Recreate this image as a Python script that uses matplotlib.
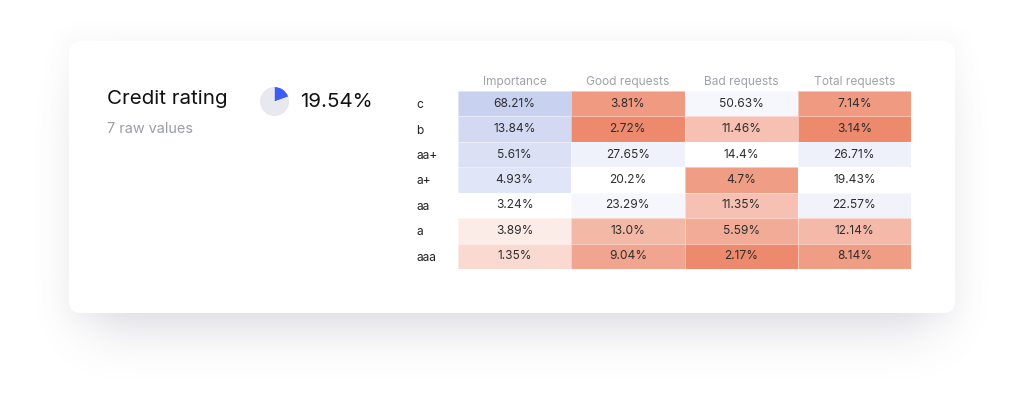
import math
import numpy as np
import matplotlib
matplotlib.use("Agg")
import matplotlib.pyplot as plt
from matplotlib.patches import FancyBboxPatch
from matplotlib.colors import LinearSegmentedColormap

plt.rcParams['font.family'] = ['Inter', 'DejaVu Sans']

# ---- data ----
title = "Credit rating"
subtitle = "7 raw values"
share_pct = 19.54
row_labels = ["c", "b", "aa+", "a+", "aa", "a", "aaa"]
col_labels = ["Importance", "Good requests", "Bad requests", "Total requests"]
importance = [68.21, 13.84, 5.61, 4.93, 3.24, 3.89, 1.35]
good_requests = [3.81, 2.72, 27.65, 20.2, 23.29, 13.0, 9.04]
bad_requests = [50.63, 11.46, 14.4, 4.7, 11.35, 5.59, 2.17]
total_requests = [7.14, 3.14, 26.71, 19.43, 22.57, 12.14, 8.14]
# colour shade (-1 deep red ... +1 deep blue)
shade_importance = [0.98, 0.80, 0.65, 0.56, 0.0, -0.15, -0.30]
shade_good = [-0.81, -0.94, 0.27, 0.0, 0.16, -0.57, -0.72]
shade_bad = [0.16, -0.50, 0.0, -0.78, -0.50, -0.67, -0.94]
shade_total = [-0.81, -0.94, 0.31, 0.0, 0.25, -0.56, -0.78]

W, H = 1024, 411
fig = plt.figure(figsize=(W / 100, H / 100), dpi=100)
fig.patch.set_facecolor('white')
bg = fig.add_axes([0, 0, 1, 1])
bg.axis('off')

# soft shadow
erf = np.vectorize(math.erf)
def soft_box(x, a, b, s):
    return 0.5 * (erf((x - a) / (s * math.sqrt(2))) - erf((x - b) / (s * math.sqrt(2))))
xs = np.arange(W) + 0.5
ys = np.arange(H) + 0.5
alpha = 0.20 * np.outer(soft_box(ys, 85, 330, 25), soft_box(xs, 88, 936, 26))
alpha += 0.035 * np.outer(soft_box(ys, 35, 320, 10), soft_box(xs, 62, 962, 10))
rgba = np.zeros((H, W, 4))
rgba[..., 0] = 0.38
rgba[..., 1] = 0.37
rgba[..., 2] = 0.48
rgba[..., 3] = np.clip(alpha, 0, 1)
bg.imshow(rgba, extent=(0, W, H, 0), aspect='auto', zorder=0, interpolation='bilinear')
bg.set_xlim(0, W)
bg.set_ylim(H, 0)

card = FancyBboxPatch((69, 41), 886, 272, boxstyle="round,pad=0,rounding_size=12",
                      fc='white', ec='none', zorder=1)
bg.add_patch(card)

bg.text(107, 99, title, fontsize=14.8, color='#111111', va='center', ha='left', zorder=2)
bg.text(107, 129, subtitle, fontsize=10.4, color='#9b9da6', va='center', ha='left', zorder=2)
bg.text(300, 102, f"{share_pct}%", fontsize=14.8, color='#111111', va='center', ha='left', zorder=2)

# pie
cx, cy, r = 274.5, 101.5, 14.5
pax = fig.add_axes([(cx - r) / W, 1 - (cy + r) / H, 2 * r / W, 2 * r / H])
pax.pie([share_pct, 100 - share_pct], colors=['#3d5cf5', '#e8e9ef'], startangle=90,
        counterclock=False, radius=1, wedgeprops=dict(linewidth=0))
pax.set_xlim(-1, 1)
pax.set_ylim(-1, 1)
pax.axis('off')

# heatmap
values = np.array([importance, good_requests, bad_requests, total_requests]).T
shades = np.array([shade_importance, shade_good, shade_bad, shade_total]).T
cmap = LinearSegmentedColormap.from_list('div', ['#ec8264', '#ffffff', '#c8d0f0'])
hax = fig.add_axes([458 / W, 1 - 269 / H, 453 / W, 178 / H])
hax.pcolormesh(np.arange(len(col_labels) + 1), np.arange(len(row_labels) + 1), shades,
               cmap=cmap, vmin=-1, vmax=1, edgecolors=(1, 1, 1, 0.45), linewidth=0.6)
hax.set_xlim(0, len(col_labels))
hax.set_ylim(len(row_labels), 0)
for i in range(len(row_labels)):
    for j in range(len(col_labels)):
        hax.text(j + 0.5, i + 0.5, f"{values[i, j]}%", ha='center', va='center',
                 fontsize=8.6, color='#2e2e2e')
hax.set_xticks(np.arange(len(col_labels)) + 0.5)
hax.set_xticklabels(col_labels, fontsize=8.6, color='#a0a2ab')
hax.xaxis.tick_top()
hax.set_yticks(np.arange(len(row_labels)) + 0.5)
hax.set_yticklabels(row_labels, fontsize=8.6, color='#222222')
for lab in hax.get_yticklabels():
    lab.set_horizontalalignment('left')
hax.tick_params(axis='y', length=0, pad=30)
hax.tick_params(axis='x', length=0, pad=2.5)
for s in hax.spines.values():
    s.set_visible(False)

fig.savefig('out.png', dpi=100, facecolor='white')
